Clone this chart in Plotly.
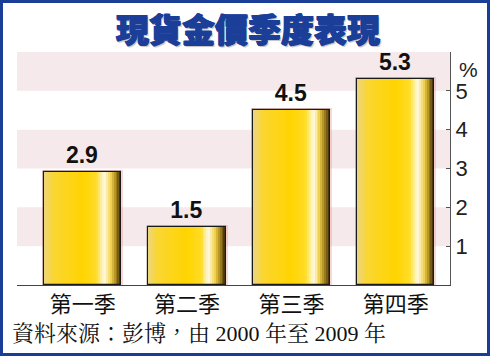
import plotly.graph_objects as go

categories = ["第一季", "第二季", "第三季", "第四季"]
values = [2.9, 1.5, 4.5, 5.3]
tick_vals = [1, 2, 3, 4, 5]
tick_text = ["1", "2", "3", "4", "5"]
band_ranges = [(1, 2), (3, 4), (5, 6)]

title_text = "現貨金價季度表現"
source_text = "資料來源：彭博，由 2000 年至 2009 年"

BAR_W = 0.74
N_STRIPS = 40
stops = [
    (0.00, (236, 214, 130)),
    (0.12, (250, 214, 50)),
    (0.50, (255, 212, 0)),
    (0.68, (255, 220, 40)),
    (0.78, (255, 250, 228)),
    (0.86, (242, 212, 80)),
    (0.93, (165, 130, 25)),
    (1.00, (65, 50, 12)),
]


def color_at(t):
    for (t0, c0), (t1, c1) in zip(stops, stops[1:]):
        if t0 <= t <= t1:
            f = (t - t0) / (t1 - t0) if t1 > t0 else 0
            c = [round(a + (b - a) * f) for a, b in zip(c0, c1)]
            return f"rgb({c[0]},{c[1]},{c[2]})"
    c = stops[-1][1]
    return f"rgb({c[0]},{c[1]},{c[2]})"


fig = go.Figure()

# soft reddish glow behind bars
fig.add_trace(go.Bar(
    x=categories, y=[v + 0.05 for v in values], width=BAR_W + 0.035,
    marker=dict(color="rgba(235,140,140,0.35)", line=dict(width=0)),
    hoverinfo="skip", showlegend=False,
))

# gradient strips (each runs to the right edge, so no seams)
sw = BAR_W / N_STRIPS
for k in range(N_STRIPS):
    t = (k + 0.5) / N_STRIPS
    fig.add_trace(go.Bar(
        x=categories, y=values, width=BAR_W - k * sw, offset=-BAR_W / 2 + k * sw,
        marker=dict(color=color_at(t), line=dict(width=0)),
        hoverinfo="skip", showlegend=False,
    ))

# outline + value labels
fig.add_trace(go.Bar(
    x=categories, y=values, width=BAR_W,
    marker=dict(color="rgba(0,0,0,0)", line=dict(color="#1a1a1a", width=1.2)),
    text=[f"{v:.1f}" for v in values], textposition="outside",
    textfont=dict(family="Liberation Sans, Arial, sans-serif", size=23, color="#111", weight="bold"),
    cliponaxis=False, showlegend=False,
))

shapes = []
for lo, hi in band_ranges:
    shapes.append(dict(type="rect", xref="paper", yref="y", x0=0, x1=1, y0=lo, y1=hi,
                       fillcolor="#f6e9eb", line=dict(width=0), layer="below"))

# blue frame
L, R, T, B = 17, 40, 52, 71
PW, PH = 490 - L - R, 356 - T - B
shapes.append(dict(type="rect", xref="paper", yref="paper",
                   x0=(-L + 1.5) / PW, x1=1 + (R - 1.5) / PW,
                   y0=-(B - 1.5) / PH, y1=1 + (T - 1.5) / PH,
                   line=dict(color="#1a3d98", width=3), fillcolor="rgba(0,0,0,0)"))

annotations = [
    dict(text=title_text, xref="paper", yref="paper", x=(248 - L) / PW, y=1 + (T - 28) / PH,
         showarrow=False, xanchor="center", yanchor="middle",
         font=dict(family="Noto Sans CJK TC", size=33, color="#1b3f99", weight=900,
                   shadow="0.8px 0 0 #1b3f99, -0.8px 0 0 #1b3f99, 0 0.8px 0 #1b3f99, 1.5px 1.5px 1px rgba(0,0,0,0.25)")),
    dict(text="%", xref="paper", yref="y", x=1 + 18 / PW, y=5.55, showarrow=False,
         xanchor="center", yanchor="middle",
         font=dict(family="Liberation Sans, Arial, sans-serif", size=21, color="#222")),
    dict(text=source_text, xref="paper", yref="paper", x=(-L + 10) / PW, y=-(333 - 285) / PH,
         showarrow=False, xanchor="left", yanchor="middle",
         font=dict(family="Liberation Serif, Noto Serif CJK TC, Noto Sans CJK TC", size=22, color="#111")),
]

fig.update_layout(
    width=490, height=356,
    margin=dict(l=L, r=R, t=T, b=B),
    paper_bgcolor="white", plot_bgcolor="white",
    barmode="overlay", bargap=0,
    shapes=shapes, annotations=annotations,
    xaxis=dict(range=[-0.63, 3.52], showgrid=False, showline=True, linecolor="#444", linewidth=1,
               ticks="", tickfont=dict(family="Noto Sans CJK TC", size=22, color="#111"),
               fixedrange=True),
    yaxis=dict(range=[0, 6], side="right", showgrid=False, zeroline=False, showline=True,
               linecolor="#555", linewidth=1, ticks="inside", ticklen=4, tickcolor="#555",
               tickvals=tick_vals, ticktext=tick_text,
               tickfont=dict(family="Liberation Sans, Arial, sans-serif", size=22, color="#222"),
               fixedrange=True),
)

fig.write_html("out.html", config={"displayModeBar": False},
               post_script="document.body.style.margin='0';")
